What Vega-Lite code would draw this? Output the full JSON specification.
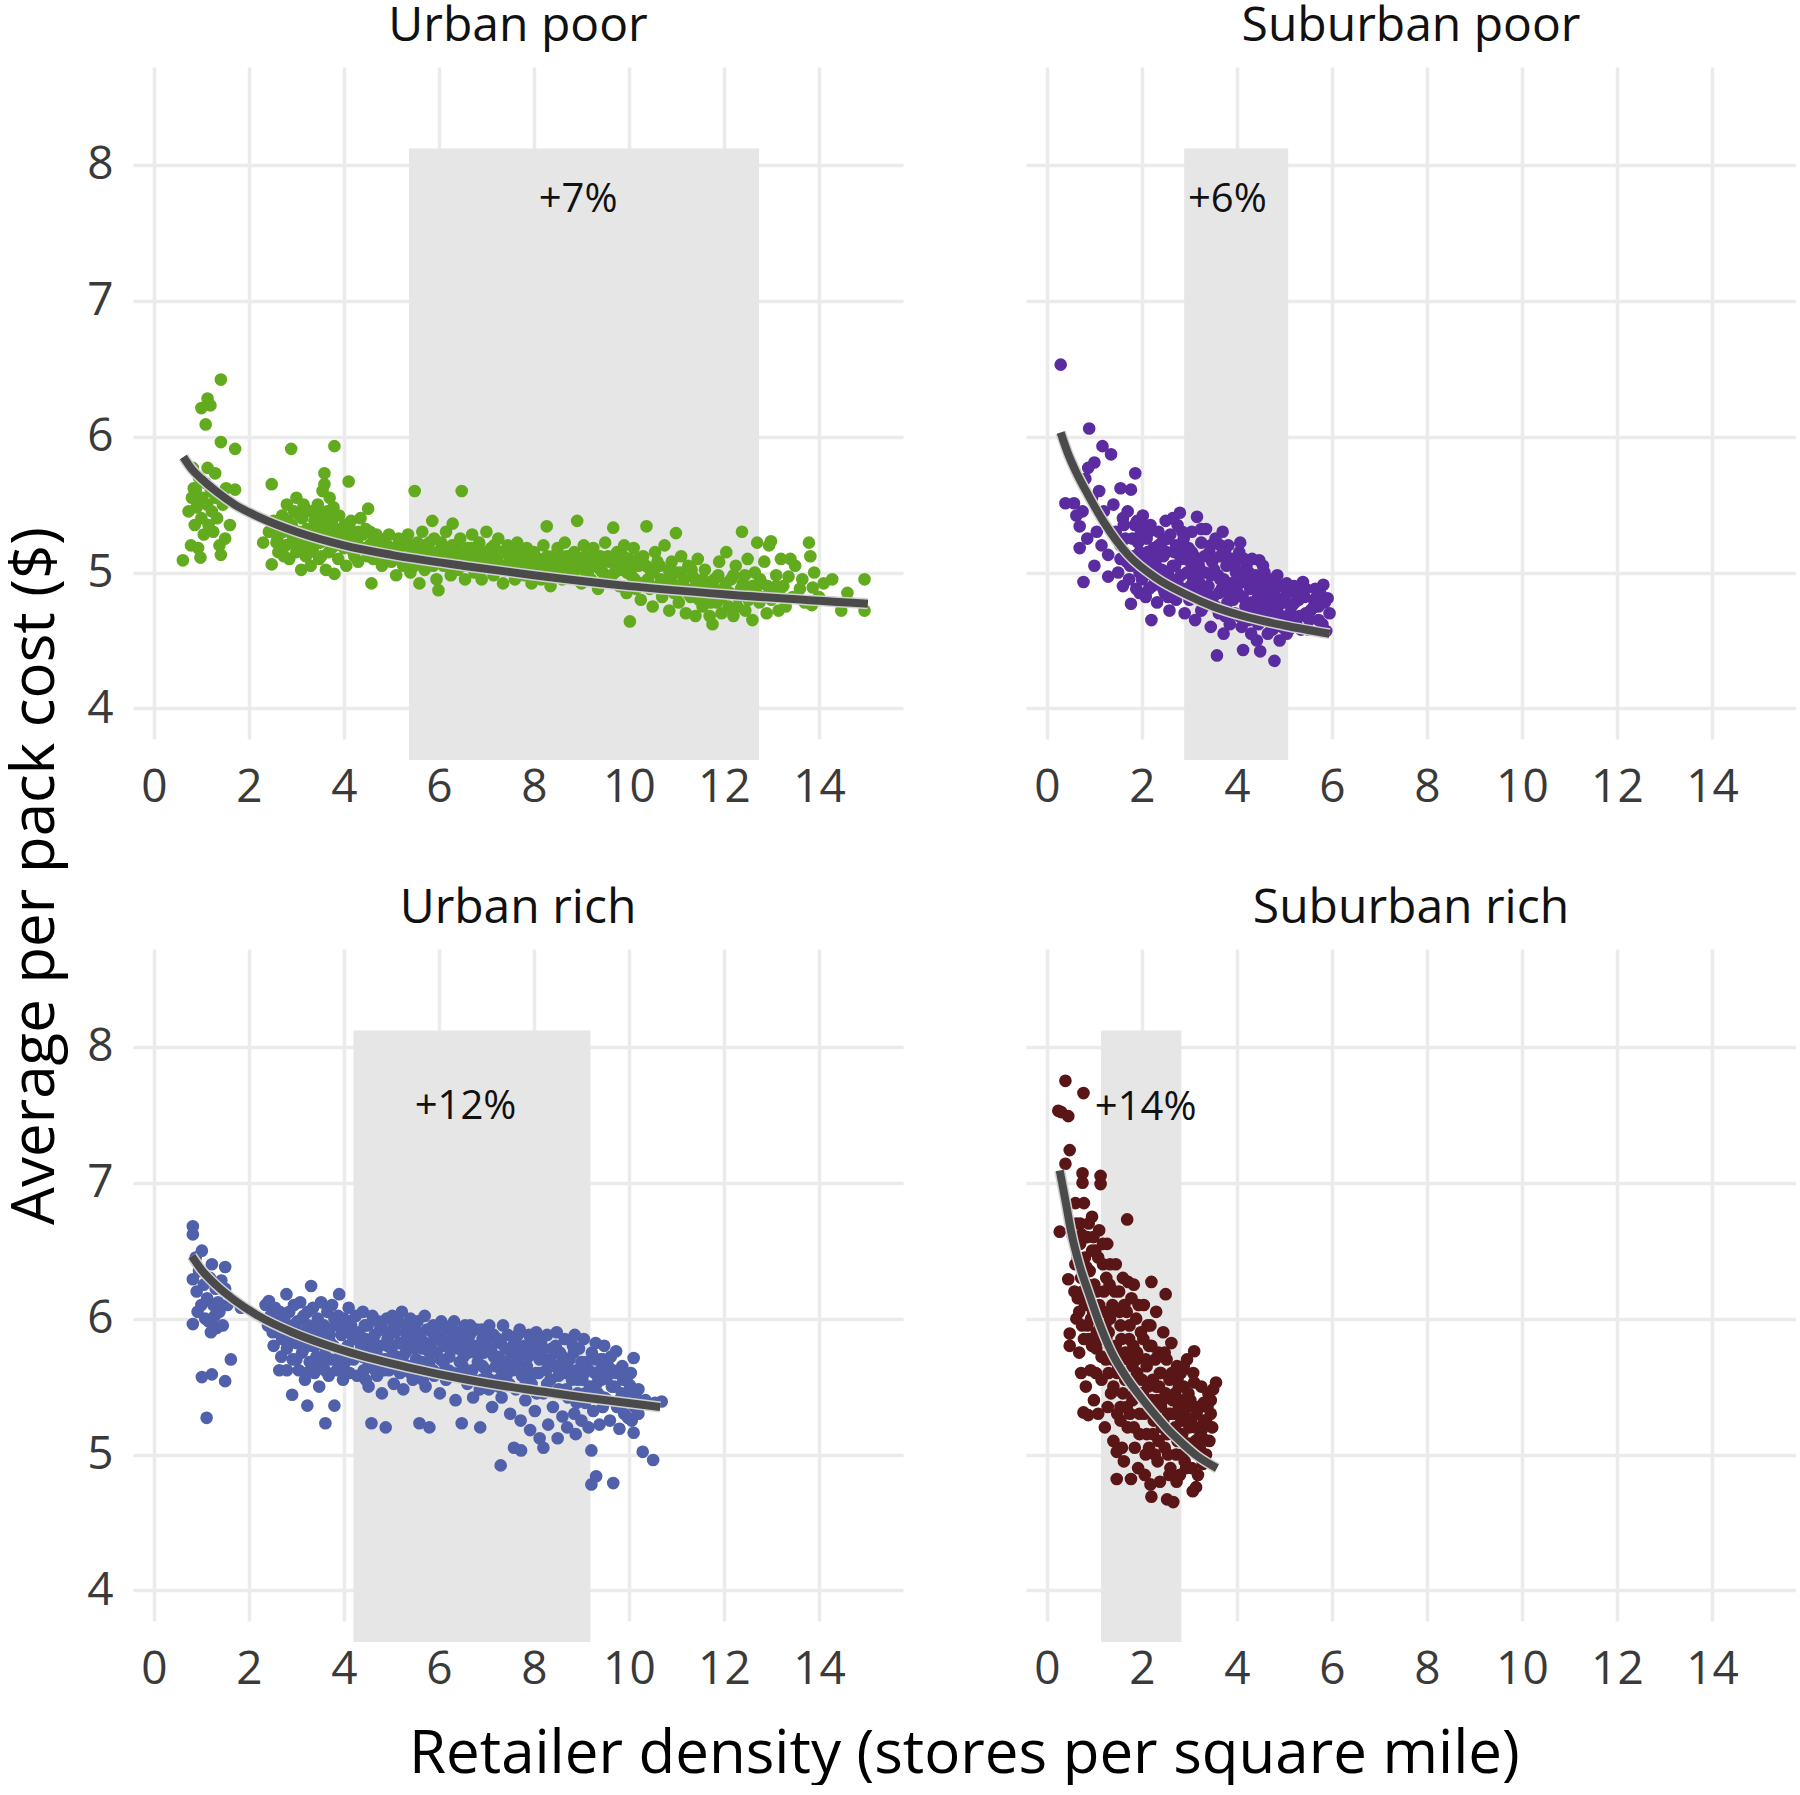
{
  "$schema": "https://vega.github.io/schema/vega-lite/v6.json",
  "background": "white",
  "padding": {"left": 5, "top": 3, "right": 0, "bottom": 0},
  "config": {
    "font": "Open Sans",
    "view": {"stroke": null},
    "axis": {"domain": false, "ticks": false, "tickSize": 0, "grid": true, "gridColor": "#ebebeb", "gridWidth": 3.5, "labelFontSize": 46, "labelColor": "#3a3a3a", "labelFont": "Open Sans"},
    "axisX": {"labelPadding": 26},
    "axisY": {"labelPadding": 20},
    "title": {"fontSize": 48, "fontWeight": "normal", "color": "#111111", "font": "Open Sans"}
  },
  "datasets": {
    "bands": [
      {"p": "UP", "x": 5.37, "xe": 12.74, "y": 3.62, "ye": 8.12, "lx": 8.93, "ly": 7.74, "t": "+7%"},
      {"p": "SP", "x": 2.89, "xe": 5.08, "y": 3.62, "ye": 8.12, "lx": 3.8, "ly": 7.74, "t": "+6%"},
      {"p": "UR", "x": 4.2, "xe": 9.19, "y": 3.62, "ye": 8.12, "lx": 6.56, "ly": 7.56, "t": "+12%"},
      {"p": "SR", "x": 1.14, "xe": 2.83, "y": 3.62, "ye": 8.12, "lx": 2.08, "ly": 7.55, "t": "+14%"}
    ],
    "fits": [
      {"p": "UP", "x": 0.62, "y": 5.85}, {"p": "UP", "x": 0.8, "y": 5.76}, {"p": "UP", "x": 1.0, "y": 5.69}, {"p": "UP", "x": 1.3, "y": 5.6}, {"p": "UP", "x": 1.7, "y": 5.5}, {"p": "UP", "x": 2.2, "y": 5.41}, {"p": "UP", "x": 3.0, "y": 5.3}, {"p": "UP", "x": 4.0, "y": 5.2}, {"p": "UP", "x": 5.0, "y": 5.13}, {"p": "UP", "x": 6.5, "y": 5.05}, {"p": "UP", "x": 8.0, "y": 4.98}, {"p": "UP", "x": 10.0, "y": 4.9}, {"p": "UP", "x": 12.0, "y": 4.84}, {"p": "UP", "x": 15.03, "y": 4.77},
      {"p": "SP", "x": 0.29, "y": 6.03}, {"p": "SP", "x": 0.45, "y": 5.87}, {"p": "SP", "x": 0.6, "y": 5.75}, {"p": "SP", "x": 0.87, "y": 5.57}, {"p": "SP", "x": 1.2, "y": 5.37}, {"p": "SP", "x": 1.71, "y": 5.13}, {"p": "SP", "x": 2.3, "y": 4.96}, {"p": "SP", "x": 2.92, "y": 4.84}, {"p": "SP", "x": 3.5, "y": 4.75}, {"p": "SP", "x": 4.13, "y": 4.68}, {"p": "SP", "x": 5.0, "y": 4.61}, {"p": "SP", "x": 5.95, "y": 4.55},
      {"p": "UR", "x": 0.8, "y": 6.46}, {"p": "UR", "x": 1.0, "y": 6.36}, {"p": "UR", "x": 1.3, "y": 6.25}, {"p": "UR", "x": 1.68, "y": 6.14}, {"p": "UR", "x": 2.2, "y": 6.02}, {"p": "UR", "x": 2.91, "y": 5.9}, {"p": "UR", "x": 3.6, "y": 5.81}, {"p": "UR", "x": 4.14, "y": 5.75}, {"p": "UR", "x": 5.37, "y": 5.64}, {"p": "UR", "x": 6.6, "y": 5.55}, {"p": "UR", "x": 7.83, "y": 5.48}, {"p": "UR", "x": 9.06, "y": 5.42}, {"p": "UR", "x": 10.66, "y": 5.35},
      {"p": "SR", "x": 0.27, "y": 7.09}, {"p": "SR", "x": 0.4, "y": 6.85}, {"p": "SR", "x": 0.51, "y": 6.64}, {"p": "SR", "x": 0.68, "y": 6.4}, {"p": "SR", "x": 0.87, "y": 6.2}, {"p": "SR", "x": 1.1, "y": 5.97}, {"p": "SR", "x": 1.35, "y": 5.76}, {"p": "SR", "x": 1.65, "y": 5.58}, {"p": "SR", "x": 1.96, "y": 5.43}, {"p": "SR", "x": 2.26, "y": 5.3}, {"p": "SR", "x": 2.56, "y": 5.18}, {"p": "SR", "x": 2.86, "y": 5.08}, {"p": "SR", "x": 3.16, "y": 4.99}, {"p": "SR", "x": 3.58, "y": 4.9}
    ],
    "UP": [
      {"x":0.61,"y":5.09},{"x":0.73,"y":5.45},{"x":0.78,"y":5.2},{"x":0.8,"y":5.55},{"x":0.82,"y":5.77},{"x":0.84,"y":5.62},{"x":0.86,"y":5.35},{"x":0.88,"y":5.61},{"x":0.9,"y":5.48},{"x":0.93,"y":5.18},{"x":0.95,"y":5.7},{"x":0.98,"y":5.11},{"x":1.0,"y":6.21},{"x":1.0,"y":5.4},{"x":1.02,"y":5.55},{"x":1.05,"y":5.28},{"x":1.08,"y":5.66},{"x":1.09,"y":6.09},{"x":1.12,"y":5.5},{"x":1.13,"y":6.28},{"x":1.13,"y":5.77},{"x":1.15,"y":5.35},{"x":1.19,"y":6.23},{"x":1.2,"y":5.6},{"x":1.22,"y":5.45},{"x":1.25,"y":5.3},{"x":1.29,"y":5.73},{"x":1.3,"y":5.55},{"x":1.33,"y":5.4},{"x":1.38,"y":5.2},{"x":1.41,"y":6.42},{"x":1.41,"y":5.96},{"x":1.41,"y":5.13},{"x":1.45,"y":5.5},{"x":1.5,"y":5.25},{"x":1.52,"y":5.62},{"x":1.71,"y":5.91},{"x":1.71,"y":5.61},{"x":1.6,"y":5.35},
      {"x":2.3,"y":5.22},{"x":2.42,"y":5.3},{"x":2.48,"y":5.06},{"x":2.48,"y":5.65},{"x":2.55,"y":5.35},{"x":2.6,"y":5.25},{"x":2.62,"y":5.15},{"x":2.7,"y":5.42},{"x":2.72,"y":5.3},{"x":2.78,"y":5.2},{"x":2.8,"y":5.5},{"x":2.85,"y":5.1},{"x":2.89,"y":5.91},{"x":2.9,"y":5.35},{"x":2.92,"y":5.27},{"x":2.95,"y":5.45},{"x":3.0,"y":5.15},{"x":3.0,"y":5.55},{"x":3.05,"y":5.3},{"x":3.08,"y":5.22},{"x":3.1,"y":5.02},{"x":3.12,"y":5.4},{"x":3.15,"y":5.5},{"x":3.2,"y":5.12},{"x":3.22,"y":5.32},{"x":3.25,"y":5.25},{"x":3.3,"y":5.45},{"x":3.3,"y":5.05},{"x":3.35,"y":5.18},{"x":3.38,"y":5.38},{"x":3.4,"y":5.28},{"x":3.45,"y":5.5},{"x":3.48,"y":5.1},{"x":3.5,"y":5.22},{"x":3.52,"y":5.42},{"x":3.55,"y":5.6},{"x":3.59,"y":5.73},{"x":3.59,"y":5.65},{"x":3.6,"y":5.32},{"x":3.62,"y":5.02},{"x":3.65,"y":5.45},{"x":3.68,"y":5.15},{"x":3.7,"y":5.55},{"x":3.72,"y":5.25},{"x":3.75,"y":5.38},{"x":3.78,"y":5.48},{"x":3.8,"y":5.93},{"x":3.8,"y":4.99},{"x":3.82,"y":5.2},{"x":3.85,"y":5.32},{"x":3.88,"y":5.1},{"x":3.9,"y":5.42},{"x":3.95,"y":5.28},{"x":4.0,"y":5.18},{"x":4.02,"y":5.35},{"x":4.05,"y":5.05},{"x":4.1,"y":5.67},{"x":4.1,"y":5.25},{"x":4.15,"y":5.38},{"x":4.2,"y":5.15},{"x":4.22,"y":5.3},{"x":4.28,"y":5.22},{"x":4.3,"y":5.08},{"x":4.35,"y":5.4},{"x":4.4,"y":5.28},{"x":4.45,"y":5.18},{"x":4.5,"y":5.12},{"x":4.51,"y":5.47},{"x":4.55,"y":5.3},{"x":4.58,"y":4.92},{"x":4.6,"y":5.22},
      {"x":4.7,"y":5.15},{"x":4.75,"y":5.25},{"x":4.8,"y":5.05},{"x":4.85,"y":5.2},{"x":4.9,"y":5.12},{"x":4.95,"y":5.28},{"x":5.0,"y":5.08},{"x":5.05,"y":5.18},{"x":5.1,"y":4.98},{"x":5.15,"y":5.25},{"x":5.2,"y":5.12},{"x":5.25,"y":5.05},{"x":5.3,"y":5.2},{"x":5.35,"y":5.28},{"x":5.4,"y":5.0},{"x":5.45,"y":5.15},{"x":5.49,"y":5.6},{"x":5.5,"y":5.08},{"x":5.55,"y":5.22},{"x":5.59,"y":4.92},{"x":5.6,"y":5.15},{"x":5.65,"y":5.3},{"x":5.7,"y":5.02},{"x":5.75,"y":5.18},{"x":5.8,"y":5.1},{"x":5.86,"y":5.38},{"x":5.9,"y":5.25},{"x":5.95,"y":4.95},{"x":5.99,"y":4.87},{"x":6.0,"y":5.12},{"x":6.05,"y":5.22},{"x":6.1,"y":5.05},{"x":6.15,"y":5.3},{"x":6.2,"y":5.15},{"x":6.25,"y":4.98},{"x":6.29,"y":5.36},{"x":6.3,"y":5.1},{"x":6.35,"y":5.2},{"x":6.4,"y":5.02},{"x":6.45,"y":5.25},{"x":6.48,"y":5.6},{"x":6.5,"y":5.12},{"x":6.55,"y":4.95},{"x":6.6,"y":5.18},{"x":6.65,"y":5.08},{"x":6.7,"y":5.28},{"x":6.75,"y":5.0},{"x":6.8,"y":5.15},{"x":6.85,"y":5.22},{"x":6.9,"y":4.95},{"x":6.95,"y":5.1},{"x":7.0,"y":5.3},{"x":7.05,"y":5.05},{"x":7.1,"y":5.18},{"x":7.15,"y":4.98},{"x":7.2,"y":5.12},{"x":7.25,"y":5.25},{"x":7.3,"y":5.05},{"x":7.35,"y":4.92},{"x":7.4,"y":5.15},{"x":7.45,"y":5.2},{"x":7.5,"y":5.02},{"x":7.55,"y":5.1},{"x":7.6,"y":4.95},{"x":7.65,"y":5.22},{"x":7.7,"y":5.05},{"x":7.75,"y":5.12},{"x":7.8,"y":4.98},{"x":7.85,"y":5.18},{"x":7.9,"y":5.08},{"x":7.95,"y":4.92},
      {"x":8.0,"y":5.15},{"x":8.05,"y":5.02},{"x":8.1,"y":5.1},{"x":8.15,"y":4.95},{"x":8.2,"y":5.2},{"x":8.27,"y":5.34},{"x":8.3,"y":5.05},{"x":8.35,"y":4.9},{"x":8.4,"y":5.12},{"x":8.45,"y":5.0},{"x":8.5,"y":5.18},{"x":8.55,"y":5.07},{"x":8.6,"y":4.95},{"x":8.65,"y":5.22},{"x":8.7,"y":5.03},{"x":8.75,"y":5.12},{"x":8.8,"y":4.98},{"x":8.85,"y":5.15},{"x":8.91,"y":5.38},{"x":8.95,"y":5.05},{"x":9.0,"y":4.92},{"x":9.05,"y":5.2},{"x":9.1,"y":5.0},{"x":9.15,"y":5.1},{"x":9.2,"y":4.95},{"x":9.25,"y":5.18},{"x":9.3,"y":5.05},{"x":9.35,"y":4.88},{"x":9.4,"y":5.12},{"x":9.45,"y":5.0},{"x":9.5,"y":5.22},{"x":9.55,"y":4.95},{"x":9.6,"y":5.08},{"x":9.67,"y":5.33},{"x":9.7,"y":5.0},{"x":9.75,"y":5.15},{"x":9.8,"y":4.9},{"x":9.85,"y":5.05},{"x":9.9,"y":5.2},{"x":9.95,"y":4.85},{"x":10.0,"y":5.1},{"x":10.02,"y":4.64},
      {"x":10.05,"y":4.98},{"x":10.1,"y":5.18},{"x":10.15,"y":4.88},{"x":10.2,"y":5.05},{"x":10.25,"y":4.8},{"x":10.3,"y":5.12},{"x":10.37,"y":5.34},{"x":10.4,"y":4.95},{"x":10.45,"y":5.02},{"x":10.5,"y":4.75},{"x":10.55,"y":5.15},{"x":10.6,"y":4.9},{"x":10.65,"y":5.05},{"x":10.7,"y":4.82},{"x":10.75,"y":5.2},{"x":10.8,"y":4.95},{"x":10.85,"y":4.72},{"x":10.9,"y":5.08},{"x":10.95,"y":4.85},{"x":10.99,"y":5.29},{"x":11.0,"y":5.0},{"x":11.05,"y":4.78},{"x":11.1,"y":5.12},{"x":11.15,"y":4.9},{"x":11.2,"y":4.7},{"x":11.25,"y":5.05},{"x":11.3,"y":4.82},{"x":11.35,"y":4.97},{"x":11.4,"y":4.68},{"x":11.45,"y":5.1},{"x":11.5,"y":4.88},{"x":11.55,"y":4.75},{"x":11.6,"y":5.02},{"x":11.65,"y":4.85},{"x":11.7,"y":4.68},{"x":11.76,"y":4.62},{"x":11.8,"y":4.95},{"x":11.85,"y":4.78},{"x":11.9,"y":5.08},{"x":11.95,"y":4.7},{"x":12.0,"y":4.88},{"x":12.05,"y":5.15},{"x":12.1,"y":4.75},{"x":12.15,"y":4.95},{"x":12.2,"y":4.68},{"x":12.25,"y":5.05},{"x":12.3,"y":4.82},{"x":12.38,"y":5.3},{"x":12.4,"y":4.92},{"x":12.45,"y":4.72},{"x":12.5,"y":5.1},{"x":12.55,"y":4.85},{"x":12.6,"y":4.65},{"x":12.65,"y":5.0},{"x":12.7,"y":5.22},{"x":12.75,"y":4.78},
      {"x":12.8,"y":4.92},{"x":12.85,"y":5.08},{"x":12.9,"y":4.7},{"x":12.95,"y":5.2},{"x":12.99,"y":5.23},{"x":13.05,"y":4.85},{"x":13.1,"y":4.98},{"x":13.15,"y":4.72},{"x":13.2,"y":5.1},{"x":13.25,"y":4.9},{"x":13.3,"y":4.75},{"x":13.36,"y":4.97},{"x":13.45,"y":4.82},{"x":13.5,"y":5.05},{"x":13.6,"y":4.88},{"x":13.7,"y":4.78},{"x":13.79,"y":5.22},{"x":13.82,"y":5.12},{"x":13.85,"y":4.76},{"x":13.87,"y":4.89},{"x":13.9,"y":5.0},{"x":14.0,"y":4.82},{"x":14.1,"y":4.92},{"x":14.28,"y":4.95},{"x":14.47,"y":4.72},{"x":14.6,"y":4.85},{"x":14.96,"y":4.95},{"x":14.96,"y":4.72},{"x":13.4,"y":5.1},{"x":13.65,"y":4.95},
      {"x":2.52,"y":5.38},{"x":2.58,"y":5.22},{"x":2.66,"y":5.32},{"x":2.74,"y":5.12},{"x":2.82,"y":5.38},{"x":2.9,"y":5.22},{"x":2.98,"y":5.3},{"x":3.06,"y":5.42},{"x":3.14,"y":5.2},{"x":3.22,"y":5.46},{"x":3.28,"y":5.15},{"x":3.36,"y":5.3},{"x":3.44,"y":5.35},{"x":3.52,"y":5.12},{"x":3.58,"y":5.4},{"x":3.66,"y":5.3},{"x":3.74,"y":5.18},{"x":3.82,"y":5.42},{"x":3.9,"y":5.22},{"x":3.98,"y":5.32},{"x":4.06,"y":5.2},{"x":4.14,"y":5.3},{"x":4.22,"y":5.12},{"x":4.3,"y":5.3},{"x":4.38,"y":5.18},{"x":4.46,"y":5.32},{"x":4.54,"y":5.2},{"x":4.62,"y":5.1},{"x":4.68,"y":5.28},{"x":4.76,"y":5.12},{"x":4.84,"y":5.1},{"x":4.92,"y":5.2},{"x":5.0,"y":5.18},{"x":5.08,"y":5.1},{"x":5.16,"y":5.15},{"x":5.24,"y":5.2},{"x":5.32,"y":5.1},{"x":5.4,"y":5.2},{"x":5.48,"y":5.05},{"x":5.56,"y":5.15},{"x":5.64,"y":5.2},{"x":5.72,"y":5.12},{"x":5.8,"y":5.22},{"x":5.88,"y":5.05},{"x":5.96,"y":5.15},{"x":6.04,"y":5.08},{"x":6.12,"y":5.18},{"x":6.2,"y":5.05},{"x":6.28,"y":5.2},{"x":6.36,"y":5.1},{"x":6.44,"y":5.15},{"x":6.52,"y":5.05},{"x":6.6,"y":5.12},{"x":6.68,"y":5.18},{"x":6.76,"y":5.08},{"x":6.84,"y":5.15},{"x":6.92,"y":5.05},{"x":7.0,"y":5.15},{"x":7.08,"y":5.1},{"x":7.16,"y":5.2},{"x":7.24,"y":5.08},{"x":7.32,"y":5.15},{"x":7.4,"y":5.05},{"x":7.48,"y":5.12},{"x":7.56,"y":5.18},{"x":7.64,"y":5.08},{"x":7.72,"y":5.15},{"x":7.8,"y":5.05},{"x":7.88,"y":5.12},{"x":7.96,"y":5.05},{"x":8.04,"y":5.1},{"x":8.12,"y":5.02},{"x":8.2,"y":5.08},{"x":8.28,"y":5.12},{"x":8.36,"y":5.02},{"x":8.44,"y":5.08},{"x":8.52,"y":5.1},{"x":8.6,"y":5.03},{"x":8.68,"y":5.12},{"x":8.76,"y":5.05},{"x":8.84,"y":5.0},{"x":8.92,"y":5.1},{"x":9.0,"y":5.05},{"x":9.08,"y":5.12},{"x":9.16,"y":5.02},{"x":9.24,"y":5.08},{"x":9.32,"y":5.12},{"x":9.4,"y":5.02},{"x":9.48,"y":5.08},{"x":9.56,"y":5.12},{"x":9.64,"y":4.98},{"x":9.72,"y":5.08},{"x":9.8,"y":5.02},{"x":9.88,"y":5.12},{"x":9.96,"y":5.0},{"x":10.04,"y":5.05},{"x":10.12,"y":4.95},{"x":10.2,"y":5.1},{"x":10.28,"y":4.92},{"x":10.36,"y":5.05},{"x":10.44,"y":4.88},{"x":10.52,"y":5.0},{"x":10.6,"y":5.08},{"x":10.68,"y":4.95},{"x":10.76,"y":4.88},{"x":10.84,"y":5.02},{"x":10.92,"y":4.92},{"x":11.0,"y":4.85},{"x":11.08,"y":5.0},{"x":11.16,"y":4.95},{"x":11.24,"y":4.85},{"x":11.32,"y":5.02},{"x":11.4,"y":4.9},{"x":11.48,"y":4.8},{"x":11.56,"y":4.95},{"x":11.64,"y":4.9},{"x":11.72,"y":4.78},{"x":11.8,"y":4.88},{"x":11.88,"y":4.98},{"x":11.96,"y":4.82},{"x":12.04,"y":4.92},{"x":12.12,"y":4.85},{"x":12.2,"y":4.98},{"x":12.28,"y":4.75},{"x":12.36,"y":4.88},{"x":12.44,"y":4.98},{"x":12.52,"y":4.8},{"x":12.6,"y":4.9},{"x":12.68,"y":4.85},{"x":12.76,"y":4.95},{"x":12.84,"y":4.82},{"x":12.92,"y":4.9},{"x":13.0,"y":4.8},{"x":13.1,"y":4.9},{"x":13.2,"y":4.82}
    ],
    "SP": [
      {"x":0.29,"y":6.53},{"x":0.89,"y":6.06},{"x":1.17,"y":5.93},{"x":1.35,"y":5.87},{"x":1.0,"y":5.81},{"x":0.87,"y":5.77},{"x":0.81,"y":5.69},{"x":0.39,"y":5.51},{"x":0.57,"y":5.51},{"x":0.69,"y":5.34},{"x":0.69,"y":5.18},{"x":0.77,"y":4.93},{"x":1.0,"y":5.05},{"x":1.29,"y":5.13},{"x":1.29,"y":4.97},{"x":1.86,"y":5.73},{"x":1.77,"y":5.61},{"x":0.75,"y":5.45},{"x":0.95,"y":5.55},{"x":1.1,"y":5.6},{"x":1.2,"y":5.45},{"x":1.05,"y":5.3},{"x":0.85,"y":5.25},{"x":1.4,"y":5.5},{"x":1.45,"y":5.3},{"x":1.55,"y":5.62},{"x":1.6,"y":5.4},{"x":1.15,"y":5.2},{"x":0.62,"y":5.42},
      {"x":1.5,"y":5.0},{"x":1.55,"y":5.2},{"x":1.6,"y":4.9},{"x":1.62,"y":5.35},{"x":1.68,"y":5.08},{"x":1.7,"y":5.45},{"x":1.73,"y":4.95},{"x":1.77,"y":4.77},
      {"x":1.8,"y":5.25},{"x":1.85,"y":5.05},{"x":1.88,"y":4.88},{"x":1.9,"y":5.38},{"x":1.95,"y":5.15},{"x":1.98,"y":5.3},{"x":2.0,"y":4.95},{"x":2.02,"y":5.42},
      {"x":2.05,"y":5.1},{"x":2.08,"y":4.82},{"x":2.1,"y":5.25},{"x":2.15,"y":5.0},{"x":2.18,"y":5.35},{"x":2.2,"y":4.65},{"x":2.22,"y":4.9},{"x":2.25,"y":5.18},
      {"x":2.3,"y":5.05},{"x":2.32,"y":4.78},{"x":2.35,"y":5.3},{"x":2.4,"y":4.95},{"x":2.42,"y":5.22},{"x":2.45,"y":5.12},{"x":2.48,"y":4.85},{"x":2.5,"y":5.38},
      {"x":2.55,"y":5.0},{"x":2.58,"y":4.72},{"x":2.6,"y":5.28},{"x":2.65,"y":4.9},{"x":2.68,"y":5.15},{"x":2.7,"y":5.05},{"x":2.72,"y":4.8},{"x":2.75,"y":5.35},
      {"x":2.8,"y":5.44},{"x":2.82,"y":5.1},{"x":2.85,"y":4.88},{"x":2.88,"y":5.25},{"x":2.9,"y":4.7},{"x":2.95,"y":5.0},{"x":2.98,"y":5.18},{"x":3.0,"y":4.8},
      {"x":3.05,"y":5.3},{"x":3.08,"y":4.95},{"x":3.1,"y":5.12},{"x":3.12,"y":4.65},{"x":3.16,"y":5.41},{"x":3.18,"y":4.85},{"x":3.2,"y":5.05},{"x":3.25,"y":5.22},
      {"x":3.3,"y":4.75},{"x":3.32,"y":5.0},{"x":3.35,"y":5.32},{"x":3.4,"y":4.9},{"x":3.42,"y":5.15},{"x":3.45,"y":4.6},{"x":3.48,"y":5.08},{"x":3.5,"y":4.82},
      {"x":3.55,"y":5.25},{"x":3.58,"y":4.39},{"x":3.6,"y":4.98},{"x":3.62,"y":4.7},{"x":3.65,"y":5.12},{"x":3.68,"y":4.88},{"x":3.7,"y":5.3},{"x":3.72,"y":4.55},
      {"x":3.78,"y":5.05},{"x":3.8,"y":4.78},{"x":3.82,"y":5.2},{"x":3.85,"y":4.62},{"x":3.88,"y":4.92},{"x":3.9,"y":5.1},{"x":3.95,"y":4.7},{"x":3.98,"y":5.0},
      {"x":4.02,"y":4.85},{"x":4.05,"y":5.15},{"x":4.07,"y":5.22},{"x":4.1,"y":4.6},{"x":4.13,"y":4.43},{"x":4.15,"y":4.95},{"x":4.18,"y":4.75},{"x":4.2,"y":5.05},
      {"x":4.28,"y":4.88},{"x":4.3,"y":4.55},{"x":4.32,"y":5.1},{"x":4.35,"y":4.7},{"x":4.4,"y":4.98},{"x":4.42,"y":4.5},{"x":4.45,"y":4.82},{"x":4.47,"y":5.09},{"x":4.49,"y":4.42},
      {"x":4.52,"y":4.92},{"x":4.55,"y":4.65},{"x":4.58,"y":5.0},{"x":4.6,"y":4.78},{"x":4.65,"y":4.55},{"x":4.68,"y":4.88},{"x":4.7,"y":4.7},{"x":4.75,"y":4.95},
      {"x":4.79,"y":4.35},{"x":4.8,"y":4.6},{"x":4.82,"y":4.82},{"x":4.85,"y":4.72},{"x":4.88,"y":4.9},{"x":4.9,"y":4.5},{"x":4.95,"y":4.78},{"x":5.0,"y":4.65},
      {"x":5.05,"y":4.85},{"x":5.1,"y":4.58},{"x":5.15,"y":4.75},{"x":5.2,"y":4.9},{"x":5.25,"y":4.62},{"x":5.3,"y":4.8},{"x":5.39,"y":4.93},{"x":5.45,"y":4.7},
      {"x":5.5,"y":4.58},{"x":5.6,"y":4.74},{"x":5.65,"y":4.88},{"x":5.72,"y":4.65},{"x":5.82,"y":4.91},{"x":5.85,"y":4.78},{"x":5.88,"y":4.57},{"x":5.91,"y":4.81},{"x":5.95,"y":4.7},
      {"x":1.82,"y":5.12},{"x":1.92,"y":5.22},{"x":2.02,"y":5.05},{"x":2.12,"y":5.15},{"x":2.22,"y":4.98},{"x":2.32,"y":5.12},{"x":2.42,"y":5.02},{"x":2.52,"y":5.15},{"x":2.62,"y":4.95},{"x":2.72,"y":5.2},{"x":2.82,"y":4.98},{"x":2.92,"y":5.1},{"x":3.02,"y":4.9},{"x":3.12,"y":5.02},{"x":3.22,"y":4.92},{"x":3.32,"y":5.12},{"x":3.42,"y":4.78},{"x":3.52,"y":5.02},{"x":3.62,"y":4.85},{"x":3.72,"y":4.95},{"x":3.82,"y":4.88},{"x":3.92,"y":4.8},{"x":4.02,"y":5.0},{"x":4.12,"y":4.82},{"x":4.22,"y":4.92},{"x":4.32,"y":4.78},{"x":4.42,"y":4.88},{"x":4.52,"y":4.72},{"x":4.62,"y":4.85},{"x":4.72,"y":4.62},{"x":4.82,"y":4.75},{"x":4.92,"y":4.68},{"x":5.02,"y":4.78},{"x":5.12,"y":4.7},{"x":5.22,"y":4.78},{"x":5.32,"y":4.68},{"x":5.42,"y":4.82},{"x":5.52,"y":4.65},{"x":5.62,"y":4.8},{"x":5.72,"y":4.75},{"x":2.15,"y":5.3},{"x":2.45,"y":4.88},{"x":2.85,"y":5.3},{"x":3.25,"y":4.72},{"x":3.65,"y":5.2},{"x":4.05,"y":4.68},{"x":4.45,"y":4.62},{"x":4.25,"y":5.0},{"x":3.85,"y":5.08},{"x":3.45,"y":5.2},{"x":2.65,"y":5.4},{"x":1.95,"y":4.85},{"x":2.55,"y":4.82},{"x":3.05,"y":5.15},{"x":3.75,"y":4.68},{"x":4.6,"y":4.95},{"x":5.05,"y":4.55},{"x":4.95,"y":4.9},
      {"x":1.55,"y":5.1},{"x":1.65,"y":5.25},{"x":1.75,"y":5.05},{"x":1.85,"y":5.35},{"x":1.95,"y":5.0},{"x":2.05,"y":5.35},{"x":2.15,"y":4.88},{"x":2.25,"y":5.08},{"x":2.35,"y":5.2},{"x":2.45,"y":4.98},{"x":2.55,"y":5.25},{"x":2.65,"y":5.05},{"x":2.75,"y":4.92},{"x":2.85,"y":5.18},{"x":2.95,"y":4.85},{"x":3.05,"y":5.05},{"x":3.15,"y":4.95},{"x":3.25,"y":5.32},{"x":3.35,"y":4.85},{"x":3.45,"y":4.98},{"x":3.55,"y":4.75},{"x":3.65,"y":4.95},{"x":3.75,"y":5.15},{"x":3.85,"y":4.82},{"x":3.95,"y":5.05},{"x":4.05,"y":4.92},{"x":4.15,"y":5.1},{"x":4.25,"y":4.65},{"x":4.35,"y":4.9},{"x":4.45,"y":4.75},{"x":4.55,"y":5.05},{"x":4.65,"y":4.8},{"x":4.75,"y":4.58},{"x":4.85,"y":4.98},{"x":4.95,"y":4.6},{"x":5.05,"y":4.92},{"x":5.15,"y":4.62},{"x":5.25,"y":4.85},{"x":5.35,"y":4.58},{"x":5.45,"y":4.88},{"x":5.55,"y":4.72},{"x":5.75,"y":4.85},{"x":5.8,"y":4.62}
    ],
    "UR": [
      {"x":0.82,"y":6.68},{"x":0.82,"y":6.62},{"x":1.01,"y":6.5},{"x":1.22,"y":6.4},{"x":1.5,"y":6.38},{"x":0.82,"y":6.29},{"x":0.82,"y":5.96},{"x":1.32,"y":5.93},{"x":1.5,"y":6.22},{"x":1.01,"y":5.57},{"x":1.22,"y":5.59},{"x":1.5,"y":5.54},{"x":1.62,"y":5.7},{"x":1.11,"y":5.27},{"x":1.83,"y":6.08},{"x":0.9,"y":6.2},{"x":0.95,"y":6.35},{"x":1.0,"y":6.1},{"x":1.05,"y":6.25},{"x":1.08,"y":6.0},{"x":1.12,"y":6.15},{"x":1.15,"y":5.98},{"x":1.18,"y":6.3},{"x":1.25,"y":6.1},{"x":1.28,"y":6.02},{"x":1.3,"y":6.22},{"x":1.35,"y":6.12},{"x":1.38,"y":6.05},{"x":1.42,"y":6.28},{"x":0.88,"y":6.45},{"x":0.92,"y":6.05},{"x":1.45,"y":5.95},{"x":1.55,"y":6.1},{"x":1.2,"y":5.9},
      {"x":2.35,"y":6.1},{"x":2.4,"y":5.95},{"x":2.42,"y":6.13},{"x":2.45,"y":6.02},{"x":2.5,"y":5.9},{"x":2.55,"y":6.08},{"x":2.6,"y":5.98},{"x":2.64,"y":5.62},{"x":2.65,"y":6.05},{"x":2.7,"y":5.85},{"x":2.75,"y":5.95},{"x":2.79,"y":6.18},{"x":2.8,"y":5.78},{"x":2.85,"y":6.05},{"x":2.88,"y":5.9},{"x":2.91,"y":5.44},{"x":2.92,"y":5.7},{"x":2.95,"y":6.1},{"x":3.0,"y":5.82},{"x":3.02,"y":5.98},{"x":3.05,"y":5.62},{"x":3.08,"y":6.12},{"x":3.1,"y":5.9},{"x":3.12,"y":5.75},{"x":3.15,"y":6.02},{"x":3.18,"y":5.55},{"x":3.2,"y":5.85},{"x":3.23,"y":5.36},{"x":3.25,"y":5.95},{"x":3.28,"y":5.68},{"x":3.31,"y":6.24},{"x":3.33,"y":5.8},{"x":3.35,"y":6.08},{"x":3.38,"y":5.6},{"x":3.4,"y":5.92},{"x":3.42,"y":5.72},{"x":3.45,"y":6.0},{"x":3.48,"y":5.5},{"x":3.5,"y":5.85},{"x":3.52,"y":6.12},{"x":3.55,"y":5.65},{"x":3.58,"y":5.95},{"x":3.61,"y":5.23},{"x":3.62,"y":5.78},{"x":3.65,"y":6.05},{"x":3.68,"y":5.58},{"x":3.7,"y":5.88},{"x":3.72,"y":5.7},{"x":3.75,"y":6.1},{"x":3.78,"y":5.8},{"x":3.8,"y":5.36},{"x":3.82,"y":5.95},{"x":3.85,"y":5.62},{"x":3.88,"y":6.02},{"x":3.9,"y":6.18},{"x":3.92,"y":5.75},{"x":3.95,"y":5.88},{"x":3.98,"y":5.55},{"x":4.0,"y":6.0},{"x":4.03,"y":5.68},{"x":4.05,"y":5.9},{"x":4.08,"y":5.8},{"x":4.1,"y":6.08},{"x":4.12,"y":5.6},{"x":4.15,"y":5.95},{"x":4.18,"y":5.72},{"x":4.2,"y":5.85},{"x":4.25,"y":6.02},{"x":4.28,"y":5.58},
      {"x":4.32,"y":5.9},{"x":4.35,"y":5.75},{"x":4.4,"y":6.05},{"x":4.42,"y":5.62},{"x":4.45,"y":5.85},{"x":4.5,"y":5.95},{"x":4.52,"y":5.5},{"x":4.55,"y":5.78},{"x":4.58,"y":5.23},{"x":4.6,"y":6.02},{"x":4.62,"y":5.68},{"x":4.65,"y":5.88},{"x":4.7,"y":5.58},{"x":4.72,"y":5.98},{"x":4.75,"y":5.8},{"x":4.8,"y":5.45},{"x":4.82,"y":5.92},{"x":4.85,"y":5.7},{"x":4.88,"y":5.2},{"x":4.9,"y":6.0},{"x":4.92,"y":5.85},{"x":4.95,"y":5.62},{"x":5.0,"y":5.78},{"x":5.02,"y":6.02},{"x":5.05,"y":5.52},{"x":5.08,"y":5.9},{"x":5.1,"y":5.72},{"x":5.15,"y":5.98},{"x":5.18,"y":5.6},{"x":5.2,"y":5.82},{"x":5.22,"y":6.05},{"x":5.25,"y":5.48},{"x":5.3,"y":5.75},{"x":5.32,"y":5.92},{"x":5.35,"y":5.65},{"x":5.4,"y":6.0},{"x":5.42,"y":5.8},{"x":5.45,"y":5.55},{"x":5.5,"y":5.88},{"x":5.52,"y":5.7},{"x":5.55,"y":5.98},{"x":5.59,"y":5.23},{"x":5.6,"y":5.62},{"x":5.62,"y":5.85},{"x":5.65,"y":5.78},{"x":5.7,"y":6.02},{"x":5.72,"y":5.5},{"x":5.75,"y":5.92},{"x":5.8,"y":5.2},{"x":5.8,"y":5.68},{"x":5.85,"y":5.82},{"x":5.88,"y":5.95},{"x":5.9,"y":5.58},{"x":5.95,"y":5.75},{"x":6.0,"y":5.88},{"x":6.02,"y":5.45},{"x":6.05,"y":5.98},{"x":6.1,"y":5.68},{"x":6.12,"y":5.82},{"x":6.15,"y":5.55},{"x":6.2,"y":5.92},{"x":6.22,"y":5.72},{"x":6.25,"y":5.85},{"x":6.3,"y":5.6},{"x":6.32,"y":5.98},{"x":6.35,"y":5.4},{"x":6.4,"y":5.78},{"x":6.42,"y":5.9},{"x":6.48,"y":5.23},{"x":6.5,"y":5.65},{"x":6.52,"y":5.82},{"x":6.55,"y":5.95},{"x":6.6,"y":5.52},{"x":6.62,"y":5.75},{"x":6.65,"y":5.88},{"x":6.7,"y":5.62},{"x":6.72,"y":5.42},{"x":6.75,"y":5.8},{"x":6.8,"y":5.92},{"x":6.82,"y":5.68},{"x":6.87,"y":5.2},{"x":6.9,"y":5.55},{"x":6.92,"y":5.85},{"x":6.95,"y":5.75},{"x":7.0,"y":5.62},{"x":7.02,"y":5.9},{"x":7.05,"y":5.48},{"x":7.1,"y":5.78},{"x":7.12,"y":5.35},{"x":7.15,"y":5.88},{"x":7.2,"y":5.65},{"x":7.22,"y":5.72},{"x":7.25,"y":5.55},{"x":7.3,"y":4.92},{"x":7.3,"y":5.82},{"x":7.32,"y":5.42},{"x":7.35,"y":5.95},{"x":7.4,"y":5.68},{"x":7.42,"y":5.58},{"x":7.45,"y":5.88},{"x":7.5,"y":5.3},{"x":7.52,"y":5.75},{"x":7.55,"y":5.62},{"x":7.58,"y":5.05},{"x":7.6,"y":5.85},{"x":7.62,"y":5.48},{"x":7.65,"y":5.7},{"x":7.7,"y":5.92},{"x":7.72,"y":5.25},{"x":7.73,"y":5.03},{"x":7.75,"y":5.58},{"x":7.8,"y":5.8},{"x":7.82,"y":5.4},{"x":7.85,"y":5.65},{"x":7.9,"y":5.88},{"x":7.92,"y":5.18},{"x":7.95,"y":5.52},{"x":8.0,"y":5.75},{"x":8.02,"y":5.32},{"x":8.05,"y":5.9},{"x":8.1,"y":5.6},{"x":8.12,"y":5.12},{"x":8.15,"y":5.82},{"x":8.2,"y":5.05},{"x":8.2,"y":5.45},{"x":8.25,"y":5.7},{"x":8.28,"y":5.88},{"x":8.3,"y":5.22},{"x":8.35,"y":5.55},{"x":8.38,"y":5.78},{"x":8.4,"y":5.35},{"x":8.45,"y":5.65},{"x":8.48,"y":5.9},{"x":8.5,"y":5.12},{"x":8.52,"y":5.48},{"x":8.55,"y":5.75},{"x":8.6,"y":5.28},{"x":8.62,"y":5.6},{"x":8.65,"y":5.85},{"x":8.7,"y":5.2},{"x":8.72,"y":5.42},{"x":8.75,"y":5.7},{"x":8.8,"y":5.55},{"x":8.82,"y":5.8},{"x":8.85,"y":5.3},{"x":8.88,"y":5.15},{"x":8.9,"y":5.62},{"x":8.92,"y":5.45},{"x":8.95,"y":5.78},{"x":9.0,"y":5.25},{"x":9.02,"y":5.55},{"x":9.05,"y":5.85},{"x":9.08,"y":5.38},{"x":9.1,"y":5.68},{"x":9.15,"y":5.2},{"x":9.18,"y":5.5},{"x":9.21,"y":5.03},{"x":9.21,"y":4.78},{"x":9.22,"y":5.75},{"x":9.25,"y":5.32},{"x":9.28,"y":5.6},{"x":9.3,"y":5.82},{"x":9.31,"y":4.84},{"x":9.35,"y":5.45},{"x":9.38,"y":5.22},{"x":9.4,"y":5.7},{"x":9.42,"y":5.55},{"x":9.45,"y":5.35},{"x":9.48,"y":5.8},{"x":9.5,"y":5.62},
      {"x":9.53,"y":5.56},{"x":9.55,"y":5.4},{"x":9.6,"y":5.25},{"x":9.62,"y":5.72},{"x":9.67,"y":4.79},{"x":9.7,"y":5.5},{"x":9.73,"y":5.76},{"x":9.75,"y":5.35},{"x":9.8,"y":5.19},{"x":9.82,"y":5.6},{"x":9.85,"y":5.45},{"x":9.9,"y":5.3},{"x":9.95,"y":5.55},{"x":9.98,"y":5.27},{"x":10.02,"y":5.51},{"x":10.05,"y":5.38},{"x":10.1,"y":5.71},{"x":10.1,"y":5.16},{"x":10.15,"y":5.42},{"x":10.2,"y":5.3},{"x":10.29,"y":5.02},{"x":10.35,"y":5.4},{"x":10.51,"y":4.96},{"x":10.55,"y":5.38},{"x":10.69,"y":5.39},
      {"x":2.44,"y":5.98},{"x":2.52,"y":5.8},{"x":2.6,"y":5.9},{"x":2.68,"y":5.72},{"x":2.76,"y":6.02},{"x":2.84,"y":5.85},{"x":2.92,"y":5.95},{"x":3.0,"y":5.7},{"x":3.08,"y":5.88},{"x":3.16,"y":5.78},{"x":3.24,"y":6.05},{"x":3.32,"y":5.9},{"x":3.4,"y":5.8},{"x":3.48,"y":5.95},{"x":3.56,"y":5.72},{"x":3.64,"y":5.9},{"x":3.72,"y":5.82},{"x":3.8,"y":6.0},{"x":3.88,"y":5.68},{"x":3.96,"y":5.92},{"x":4.04,"y":5.78},{"x":4.12,"y":5.98},{"x":4.2,"y":5.7},{"x":4.28,"y":5.88},{"x":4.36,"y":5.8},{"x":4.44,"y":5.95},{"x":4.52,"y":5.68},{"x":4.6,"y":5.85},{"x":4.68,"y":5.75},{"x":4.76,"y":5.92},{"x":4.84,"y":5.62},{"x":4.92,"y":5.8},{"x":5.0,"y":5.9},{"x":5.08,"y":5.68},{"x":5.16,"y":5.82},{"x":5.24,"y":5.72},{"x":5.32,"y":5.88},{"x":5.4,"y":5.6},{"x":5.48,"y":5.78},{"x":5.56,"y":5.9},{"x":5.64,"y":5.68},{"x":5.72,"y":5.82},{"x":5.8,"y":5.75},{"x":5.88,"y":5.62},{"x":5.96,"y":5.85},{"x":6.04,"y":5.7},{"x":6.12,"y":5.92},{"x":6.2,"y":5.62},{"x":6.28,"y":5.78},{"x":6.36,"y":5.85},{"x":6.44,"y":5.68},{"x":6.52,"y":5.72},{"x":6.6,"y":5.88},{"x":6.68,"y":5.58},{"x":6.76,"y":5.75},{"x":6.84,"y":5.8},{"x":6.92,"y":5.65},{"x":7.0,"y":5.82},{"x":7.08,"y":5.55},{"x":7.16,"y":5.72},{"x":7.24,"y":5.85},{"x":7.32,"y":5.62},{"x":7.4,"y":5.78},{"x":7.48,"y":5.52},{"x":7.56,"y":5.8},{"x":7.64,"y":5.65},{"x":7.72,"y":5.75},{"x":7.8,"y":5.5},{"x":7.88,"y":5.72},{"x":7.96,"y":5.82},{"x":8.04,"y":5.6},{"x":8.12,"y":5.7},{"x":8.2,"y":5.78},{"x":8.28,"y":5.52},{"x":8.36,"y":5.68},{"x":8.44,"y":5.75},{"x":8.52,"y":5.58},{"x":8.6,"y":5.72},{"x":8.68,"y":5.48},{"x":8.76,"y":5.62},{"x":8.84,"y":5.75},{"x":8.92,"y":5.55},{"x":9.0,"y":5.68},{"x":9.08,"y":5.45},{"x":9.16,"y":5.62},{"x":9.24,"y":5.72},{"x":9.32,"y":5.52},{"x":9.4,"y":5.62},{"x":9.48,"y":5.42},{"x":9.56,"y":5.65},{"x":9.64,"y":5.5},{"x":9.72,"y":5.6},{"x":9.8,"y":5.4},{"x":9.88,"y":5.55},{"x":9.96,"y":5.45},{"x":10.04,"y":5.6},{"x":10.12,"y":5.35},{"x":10.2,"y":5.48},{"x":4.4,"y":5.72},{"x":4.9,"y":5.7},{"x":5.3,"y":5.95},{"x":5.7,"y":5.65},{"x":6.1,"y":5.8},{"x":6.5,"y":5.6},{"x":6.9,"y":5.92},{"x":7.3,"y":5.7},{"x":7.7,"y":5.62},{"x":8.1,"y":5.85},{"x":8.5,"y":5.65},{"x":8.9,"y":5.38},{"x":9.3,"y":5.7},{"x":3.6,"y":5.62},{"x":3.2,"y":5.6},{"x":2.8,"y":5.62},{"x":4.0,"y":5.62},
      {"x":5.06,"y":5.95},{"x":5.26,"y":5.62},{"x":5.46,"y":5.92},{"x":5.66,"y":5.55},{"x":5.86,"y":5.9},{"x":6.06,"y":5.6},{"x":6.26,"y":5.95},{"x":6.46,"y":5.78},{"x":6.66,"y":5.95},{"x":6.86,"y":5.48},{"x":7.06,"y":5.95},{"x":7.26,"y":5.5},{"x":7.46,"y":5.65},{"x":7.66,"y":5.88},{"x":7.86,"y":5.58},{"x":8.06,"y":5.45},{"x":8.26,"y":5.62},{"x":8.46,"y":5.8},{"x":8.66,"y":5.68},{"x":8.86,"y":5.88},{"x":9.06,"y":5.6},{"x":9.26,"y":5.42},{"x":9.46,"y":5.7},{"x":9.66,"y":5.62},{"x":9.86,"y":5.65},{"x":10.06,"y":5.25},{"x":4.66,"y":5.62},{"x":4.46,"y":5.55},{"x":3.96,"y":5.72},{"x":3.36,"y":5.68}
    ],
    "SR": [
      {"x":0.39,"y":7.75},{"x":0.77,"y":7.66},{"x":0.24,"y":7.53},{"x":0.45,"y":7.49},{"x":0.3,"y":7.52},{"x":0.48,"y":7.24},{"x":0.39,"y":7.14},{"x":0.75,"y":7.07},{"x":1.13,"y":7.05},{"x":0.75,"y":7.0},{"x":1.13,"y":6.99},{"x":0.27,"y":6.64},{"x":0.45,"y":6.29},{"x":0.48,"y":5.89},{"x":0.48,"y":5.8},{"x":0.72,"y":5.6},{"x":0.77,"y":5.31},{"x":0.87,"y":5.29},{"x":1.69,"y":6.73},{"x":2.5,"y":6.18},{"x":1.71,"y":6.27},{"x":2.2,"y":6.27},
      {"x":0.55,"y":6.6},{"x":0.58,"y":6.2},{"x":0.6,"y":6.85},{"x":0.62,"y":6.0},{"x":0.65,"y":6.45},{"x":0.68,"y":5.75},{"x":0.7,"y":6.7},{"x":0.72,"y":6.3},{"x":0.74,"y":5.95},{"x":0.66,"y":6.55},
      {"x":0.78,"y":6.85},{"x":0.8,"y":6.1},{"x":0.82,"y":5.5},{"x":0.85,"y":6.6},{"x":0.88,"y":5.85},{"x":0.9,"y":6.35},{"x":0.92,"y":5.62},{"x":0.95,"y":6.75},{"x":0.97,"y":6.05},{"x":0.99,"y":5.4},{"x":0.86,"y":6.25},
      {"x":1.02,"y":6.5},{"x":1.04,"y":5.78},{"x":1.06,"y":6.2},{"x":1.08,"y":5.3},{"x":1.1,"y":6.65},{"x":1.12,"y":5.95},{"x":1.15,"y":5.55},{"x":1.18,"y":6.4},{"x":1.2,"y":6.05},{"x":1.22,"y":5.2},{"x":1.24,"y":5.7},
      {"x":1.27,"y":6.55},{"x":1.3,"y":5.9},{"x":1.32,"y":6.25},{"x":1.35,"y":5.45},{"x":1.38,"y":6.1},{"x":1.4,"y":5.1},{"x":1.42,"y":5.75},{"x":1.45,"y":6.4},{"x":1.47,"y":5.02},{"x":1.47,"y":4.82},{"x":1.48,"y":5.6},{"x":1.33,"y":6.0},
      {"x":1.52,"y":6.2},{"x":1.55,"y":5.35},{"x":1.57,"y":5.85},{"x":1.6,"y":6.3},{"x":1.62,"y":4.95},{"x":1.65,"y":5.55},{"x":1.68,"y":6.05},{"x":1.7,"y":5.2},{"x":1.72,"y":5.7},{"x":1.74,"y":5.95},{"x":1.58,"y":5.05},
      {"x":1.77,"y":4.82},{"x":1.78,"y":6.15},{"x":1.8,"y":5.4},{"x":1.82,"y":5.8},{"x":1.85,"y":5.05},{"x":1.88,"y":6.0},{"x":1.9,"y":5.6},{"x":1.92,"y":4.9},{"x":1.95,"y":5.3},{"x":1.98,"y":5.9},{"x":1.83,"y":6.25},
      {"x":2.02,"y":5.45},{"x":2.04,"y":6.1},{"x":2.06,"y":4.85},{"x":2.08,"y":5.7},{"x":2.1,"y":5.15},{"x":2.12,"y":5.95},{"x":2.15,"y":5.35},{"x":2.18,"y":4.78},{"x":2.2,"y":4.69},{"x":2.2,"y":5.8},{"x":2.23,"y":5.55},
      {"x":2.27,"y":5.0},{"x":2.3,"y":6.05},{"x":2.32,"y":5.4},{"x":2.35,"y":5.75},{"x":2.38,"y":4.8},{"x":2.4,"y":5.6},{"x":2.42,"y":5.2},{"x":2.45,"y":5.9},{"x":2.48,"y":5.05},{"x":2.36,"y":5.5},
      {"x":2.52,"y":5.7},{"x":2.53,"y":4.67},{"x":2.55,"y":5.3},{"x":2.58,"y":5.55},{"x":2.6,"y":4.9},{"x":2.62,"y":5.82},{"x":2.65,"y":5.15},{"x":2.66,"y":4.65},{"x":2.7,"y":5.45},{"x":2.72,"y":5.0},{"x":2.74,"y":5.65},
      {"x":2.78,"y":5.35},{"x":2.8,"y":4.85},{"x":2.82,"y":5.6},{"x":2.85,"y":5.15},{"x":2.88,"y":5.5},{"x":2.9,"y":4.95},{"x":2.92,"y":5.28},{"x":2.95,"y":5.7},{"x":2.98,"y":5.08},
      {"x":3.02,"y":5.4},{"x":3.05,"y":4.9},{"x":3.07,"y":4.73},{"x":3.1,"y":5.76},{"x":3.1,"y":5.53},{"x":3.12,"y":5.2},{"x":3.14,"y":4.76},{"x":3.18,"y":5.35},{"x":3.22,"y":5.05},{"x":3.25,"y":5.5},
      {"x":3.26,"y":5.18},{"x":3.28,"y":4.93},{"x":3.3,"y":5.38},{"x":3.35,"y":5.25},{"x":3.4,"y":5.45},{"x":3.45,"y":5.3},{"x":3.5,"y":5.48},{"x":3.56,"y":5.53},{"x":3.42,"y":5.1},
      {"x":0.6,"y":6.4},{"x":0.65,"y":6.15},{"x":0.7,"y":6.55},{"x":0.75,"y":6.2},{"x":0.8,"y":6.45},{"x":0.85,"y":5.95},{"x":0.9,"y":6.15},{"x":0.95,"y":5.8},{"x":1.0,"y":6.25},{"x":1.05,"y":5.9},{"x":1.1,"y":6.1},{"x":1.15,"y":5.72},{"x":1.2,"y":6.2},{"x":1.25,"y":5.85},{"x":1.3,"y":5.6},{"x":1.35,"y":6.05},{"x":1.4,"y":5.5},{"x":1.45,"y":5.8},{"x":1.5,"y":5.65},{"x":1.55,"y":5.95},{"x":1.6,"y":5.45},{"x":1.65,"y":5.75},{"x":1.7,"y":5.55},{"x":1.75,"y":5.3},{"x":1.8,"y":5.65},{"x":1.85,"y":5.45},{"x":1.9,"y":5.75},{"x":1.95,"y":5.15},{"x":2.0,"y":5.55},{"x":2.05,"y":5.3},{"x":2.1,"y":5.65},{"x":2.15,"y":5.05},{"x":2.2,"y":5.4},{"x":2.25,"y":5.25},{"x":2.3,"y":5.5},{"x":2.35,"y":5.1},{"x":2.4,"y":5.35},{"x":2.45,"y":5.25},{"x":2.5,"y":5.45},{"x":2.55,"y":5.0},{"x":2.6,"y":5.3},{"x":2.65,"y":5.4},{"x":2.7,"y":5.2},{"x":2.75,"y":5.1},{"x":2.8,"y":5.4},{"x":2.85,"y":5.0},{"x":2.9,"y":5.25},{"x":2.95,"y":5.35},{"x":3.0,"y":5.2},{"x":3.05,"y":5.05},{"x":3.15,"y":5.3},{"x":3.2,"y":5.12},{"x":3.3,"y":5.25},{"x":3.35,"y":5.0},{"x":3.45,"y":5.4},{"x":1.25,"y":6.3},{"x":0.95,"y":6.5},{"x":1.55,"y":5.25},{"x":2.15,"y":5.8},{"x":2.75,"y":5.55},
      {"x":0.62,"y":6.7},{"x":0.68,"y":6.05},{"x":0.73,"y":6.62},{"x":0.78,"y":5.85},{"x":0.83,"y":6.38},{"x":0.88,"y":6.7},{"x":0.93,"y":6.0},{"x":0.98,"y":6.6},{"x":1.03,"y":5.6},{"x":1.08,"y":6.45},{"x":1.13,"y":5.85},{"x":1.18,"y":6.55},{"x":1.23,"y":5.95},{"x":1.28,"y":5.35},{"x":1.33,"y":6.4},{"x":1.38,"y":5.7},{"x":1.43,"y":6.2},{"x":1.48,"y":5.3},{"x":1.53,"y":6.05},{"x":1.58,"y":5.7},{"x":1.63,"y":6.1},{"x":1.68,"y":5.35},{"x":1.73,"y":5.85},{"x":1.78,"y":5.55},{"x":1.83,"y":5.2},{"x":1.88,"y":5.7},{"x":1.93,"y":6.1},{"x":1.98,"y":5.45},{"x":2.03,"y":5.85},{"x":2.08,"y":5.0},{"x":2.13,"y":5.5},{"x":2.18,"y":5.95},{"x":2.23,"y":5.15},{"x":2.28,"y":5.7},{"x":2.33,"y":4.95},{"x":2.38,"y":5.6},{"x":2.43,"y":5.4},{"x":2.48,"y":5.75},{"x":2.53,"y":5.15},{"x":2.58,"y":4.85},{"x":2.63,"y":5.6},{"x":2.68,"y":5.3},{"x":2.73,"y":4.8},{"x":2.78,"y":5.5},{"x":2.83,"y":5.25},{"x":2.88,"y":5.65},{"x":2.93,"y":4.9},{"x":2.98,"y":5.45},{"x":3.03,"y":5.25},{"x":3.08,"y":5.6},{"x":3.13,"y":5.1},{"x":3.18,"y":4.85},{"x":3.23,"y":5.35},{"x":3.28,"y":5.12},{"x":3.38,"y":5.35},{"x":3.48,"y":5.2}
    ]
  },
  "title": {"text": "Average per pack cost ($)", "orient": "left", "anchor": "middle", "fontSize": 60, "color": "#000000", "baseline": "alphabetic", "offset": -27, "dx": 18},
  "spacing": 75,
  "vconcat": [
    {
      "spacing": 123,
      "hconcat": [
        {
          "width": 770, "height": 672,
          "title": {"text": "Urban poor", "anchor": "middle", "baseline": "alphabetic", "offset": -22},
          "encoding": {
            "x": {"field": "x", "type": "quantitative", "scale": {"domain": [-0.44, 15.77], "nice": false, "zero": false}, "axis": {"values": [0,2,4,6,8,10,12,14], "title": null}},
            "y": {"field": "y", "type": "quantitative", "scale": {"domain": [3.775, 8.72], "nice": false, "zero": false}, "axis": {"values": [4,5,6,7,8], "title": null}}
          },
          "layer": [
            {"data": {"name": "bands"}, "transform": [{"filter": "datum.p == 'UP'"}], "mark": {"type": "rect", "color": "#e6e6e6"}, "encoding": {"x2": {"field": "xe"}, "y2": {"field": "ye"}}},
            {"data": {"name": "UP"}, "mark": {"type": "circle", "size": 160, "opacity": 1, "color": "#62aa1e"}},
            {"data": {"name": "fits"}, "transform": [{"filter": "datum.p == 'UP'"}], "mark": {"type": "line", "color": "#d0d0d0", "strokeWidth": 11, "interpolate": "monotone", "strokeCap": "butt"}},
            {"data": {"name": "fits"}, "transform": [{"filter": "datum.p == 'UP'"}], "mark": {"type": "line", "color": "#4a4a4a", "strokeWidth": 8, "interpolate": "monotone", "strokeCap": "butt"}},
            {"data": {"name": "bands"}, "transform": [{"filter": "datum.p == 'UP'"}], "mark": {"type": "text", "fontSize": 40, "color": "#111111", "align": "center", "baseline": "middle"}, "encoding": {"x": {"field": "lx", "type": "quantitative"}, "y": {"field": "ly", "type": "quantitative"}, "text": {"field": "t"}}}
          ]
        },
        {
          "width": 770, "height": 672,
          "title": {"text": "Suburban poor", "anchor": "middle", "baseline": "alphabetic", "offset": -22},
          "encoding": {
            "x": {"field": "x", "type": "quantitative", "scale": {"domain": [-0.44, 15.77], "nice": false, "zero": false}, "axis": {"values": [0,2,4,6,8,10,12,14], "title": null}},
            "y": {"field": "y", "type": "quantitative", "scale": {"domain": [3.775, 8.72], "nice": false, "zero": false}, "axis": {"values": [4,5,6,7,8], "title": null, "labels": false}}
          },
          "layer": [
            {"data": {"name": "bands"}, "transform": [{"filter": "datum.p == 'SP'"}], "mark": {"type": "rect", "color": "#e6e6e6"}, "encoding": {"x2": {"field": "xe"}, "y2": {"field": "ye"}}},
            {"data": {"name": "SP"}, "mark": {"type": "circle", "size": 160, "opacity": 1, "color": "#5b2ca0"}},
            {"data": {"name": "fits"}, "transform": [{"filter": "datum.p == 'SP'"}], "mark": {"type": "line", "color": "#d0d0d0", "strokeWidth": 11, "interpolate": "monotone", "strokeCap": "butt"}},
            {"data": {"name": "fits"}, "transform": [{"filter": "datum.p == 'SP'"}], "mark": {"type": "line", "color": "#4a4a4a", "strokeWidth": 8, "interpolate": "monotone", "strokeCap": "butt"}},
            {"data": {"name": "bands"}, "transform": [{"filter": "datum.p == 'SP'"}], "mark": {"type": "text", "fontSize": 40, "color": "#111111", "align": "center", "baseline": "middle"}, "encoding": {"x": {"field": "lx", "type": "quantitative"}, "y": {"field": "ly", "type": "quantitative"}, "text": {"field": "t"}}}
          ]
        }
      ]
    },
    {
      "spacing": 123,
      "title": {"text": "Retailer density (stores per square mile)", "orient": "bottom", "anchor": "middle", "fontSize": 60, "color": "#000000", "baseline": "alphabetic", "offset": 81, "dx": 23},
      "hconcat": [
        {
          "width": 770, "height": 672,
          "title": {"text": "Urban rich", "anchor": "middle", "baseline": "alphabetic", "offset": -22},
          "encoding": {
            "x": {"field": "x", "type": "quantitative", "scale": {"domain": [-0.44, 15.77], "nice": false, "zero": false}, "axis": {"values": [0,2,4,6,8,10,12,14], "title": null}},
            "y": {"field": "y", "type": "quantitative", "scale": {"domain": [3.775, 8.72], "nice": false, "zero": false}, "axis": {"values": [4,5,6,7,8], "title": null}}
          },
          "layer": [
            {"data": {"name": "bands"}, "transform": [{"filter": "datum.p == 'UR'"}], "mark": {"type": "rect", "color": "#e6e6e6"}, "encoding": {"x2": {"field": "xe"}, "y2": {"field": "ye"}}},
            {"data": {"name": "UR"}, "mark": {"type": "circle", "size": 160, "opacity": 1, "color": "#5060aa"}},
            {"data": {"name": "fits"}, "transform": [{"filter": "datum.p == 'UR'"}], "mark": {"type": "line", "color": "#d0d0d0", "strokeWidth": 11, "interpolate": "monotone", "strokeCap": "butt"}},
            {"data": {"name": "fits"}, "transform": [{"filter": "datum.p == 'UR'"}], "mark": {"type": "line", "color": "#4a4a4a", "strokeWidth": 8, "interpolate": "monotone", "strokeCap": "butt"}},
            {"data": {"name": "bands"}, "transform": [{"filter": "datum.p == 'UR'"}], "mark": {"type": "text", "fontSize": 40, "color": "#111111", "align": "center", "baseline": "middle"}, "encoding": {"x": {"field": "lx", "type": "quantitative"}, "y": {"field": "ly", "type": "quantitative"}, "text": {"field": "t"}}}
          ]
        },
        {
          "width": 770, "height": 672,
          "title": {"text": "Suburban rich", "anchor": "middle", "baseline": "alphabetic", "offset": -22},
          "encoding": {
            "x": {"field": "x", "type": "quantitative", "scale": {"domain": [-0.44, 15.77], "nice": false, "zero": false}, "axis": {"values": [0,2,4,6,8,10,12,14], "title": null}},
            "y": {"field": "y", "type": "quantitative", "scale": {"domain": [3.775, 8.72], "nice": false, "zero": false}, "axis": {"values": [4,5,6,7,8], "title": null, "labels": false}}
          },
          "layer": [
            {"data": {"name": "bands"}, "transform": [{"filter": "datum.p == 'SR'"}], "mark": {"type": "rect", "color": "#e6e6e6"}, "encoding": {"x2": {"field": "xe"}, "y2": {"field": "ye"}}},
            {"data": {"name": "SR"}, "mark": {"type": "circle", "size": 160, "opacity": 1, "color": "#5a1616"}},
            {"data": {"name": "fits"}, "transform": [{"filter": "datum.p == 'SR'"}], "mark": {"type": "line", "color": "#d0d0d0", "strokeWidth": 11, "interpolate": "monotone", "strokeCap": "butt"}},
            {"data": {"name": "fits"}, "transform": [{"filter": "datum.p == 'SR'"}], "mark": {"type": "line", "color": "#4a4a4a", "strokeWidth": 8, "interpolate": "monotone", "strokeCap": "butt"}},
            {"data": {"name": "bands"}, "transform": [{"filter": "datum.p == 'SR'"}], "mark": {"type": "text", "fontSize": 40, "color": "#111111", "align": "center", "baseline": "middle"}, "encoding": {"x": {"field": "lx", "type": "quantitative"}, "y": {"field": "ly", "type": "quantitative"}, "text": {"field": "t"}}}
          ]
        }
      ]
    }
  ]
}
